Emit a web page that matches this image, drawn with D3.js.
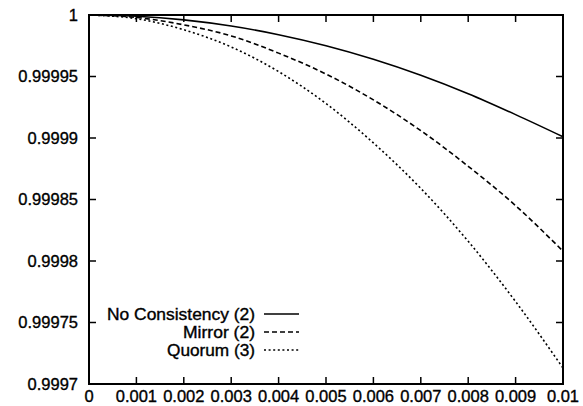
<!DOCTYPE html>
<html lang="en">
<head>
<meta charset="UTF-8">
<script src="https://d3js.org/d3.v7.min.js"></script>
<title>Availability</title>
<style>
  body { margin: 0; background: #fff; }
  text { font-family: "Liberation Sans", Arial, sans-serif; font-size: 16.5px; fill: #000; stroke: #000; stroke-width: 0.35px; }
</style>
</head>
<body>
<div id="chart"></div>
<script>
// data
var xValues = [0, 0.001, 0.002, 0.003, 0.004, 0.005, 0.006, 0.007, 0.008, 0.009, 0.01];
var noConsistency = [1, 0.999999, 0.999996, 0.999991, 0.999984, 0.999975, 0.999964, 0.999951, 0.999936, 0.999919, 0.999901];
var mirror = [1, 0.999998, 0.999992, 0.999983, 0.999969, 0.999952, 0.999931, 0.999906, 0.999877, 0.999845, 0.999808];
var quorum = [1, 0.999997, 0.999988, 0.999974, 0.999954, 0.999928, 0.999896, 0.999859, 0.999816, 0.999767, 0.999713];
var seriesNames = ["No Consistency (2)", "Mirror (2)", "Quorum (3)"];
var xTicks = [0, 0.001, 0.002, 0.003, 0.004, 0.005, 0.006, 0.007, 0.008, 0.009, 0.01];
var yTicks = [0.9997, 0.99975, 0.9998, 0.99985, 0.9999, 0.99995, 1];

var W = 583, H = 406;
var margin = {top: 15, left: 89},
    width = 563 - margin.left,
    height = 384 - margin.top;

var svg = d3.select("#chart").append("svg")
    .attr("width", W).attr("height", H);
var g = svg.append("g")
    .attr("transform", "translate(" + margin.left + "," + margin.top + ")");

var x = d3.scaleLinear().domain([0, 0.01]).range([0, width]);
var y = d3.scaleLinear().domain([0.9997, 1]).range([height, 0]);

var tickLen = 7;

// ticks on all four sides, pointing inward
var ticks = g.append("g").attr("stroke", "#000").attr("stroke-width", 1.5);
xTicks.forEach(function(t) {
  ticks.append("line").attr("x1", x(t)).attr("x2", x(t)).attr("y1", height).attr("y2", height - tickLen);
  ticks.append("line").attr("x1", x(t)).attr("x2", x(t)).attr("y1", 0).attr("y2", tickLen);
});
yTicks.forEach(function(t) {
  ticks.append("line").attr("x1", 0).attr("x2", tickLen).attr("y1", y(t)).attr("y2", y(t));
  ticks.append("line").attr("x1", width).attr("x2", width - tickLen).attr("y1", y(t)).attr("y2", y(t));
});

// tick labels
g.selectAll(".xl").data(xTicks).enter().append("text")
  .attr("x", function(d) { return x(d); })
  .attr("y", height + 18)
  .attr("text-anchor", "middle")
  .text(function(d) { return String(+d.toFixed(3)); });

g.selectAll(".yl").data(yTicks).enter().append("text")
  .attr("x", -11)
  .attr("y", function(d) { return y(d); })
  .attr("dy", "0.35em")
  .attr("text-anchor", "end")
  .text(function(d) { return String(+d.toFixed(5)); });

// curves
var styles = [
  {data: noConsistency, dash: null},
  {data: mirror, dash: "5,3"},
  {data: quorum, dash: "2,2.6"}
];
var line = d3.line()
  .x(function(d, i) { return x(xValues[i]); })
  .y(function(d) { return y(d); })
  .curve(d3.curveMonotoneX);

styles.forEach(function(s) {
  g.append("path")
    .attr("d", line(s.data))
    .attr("fill", "none")
    .attr("stroke", "#000")
    .attr("stroke-width", 1.6)
    .attr("stroke-dasharray", s.dash);
});

// frame
g.append("rect")
  .attr("x", 0).attr("y", 0)
  .attr("width", width).attr("height", height)
  .attr("fill", "none").attr("stroke", "#000").attr("stroke-width", 2);

// legend
var legend = svg.append("g");
var legY = [314, 332, 350];
seriesNames.forEach(function(name, i) {
  legend.append("text")
    .attr("x", 255).attr("y", legY[i])
    .attr("dy", "0.35em")
    .attr("text-anchor", "end")
    .style("font-size", "16px")
    .attr("textLength", [148, 72, 88][i])
    .attr("lengthAdjust", "spacingAndGlyphs")
    .text(name);
  legend.append("line")
    .attr("x1", 264).attr("x2", 299)
    .attr("y1", legY[i]).attr("y2", legY[i])
    .attr("stroke", "#000").attr("stroke-width", 1.6)
    .attr("stroke-dasharray", styles[i].dash);
});
</script>
</body>
</html>
